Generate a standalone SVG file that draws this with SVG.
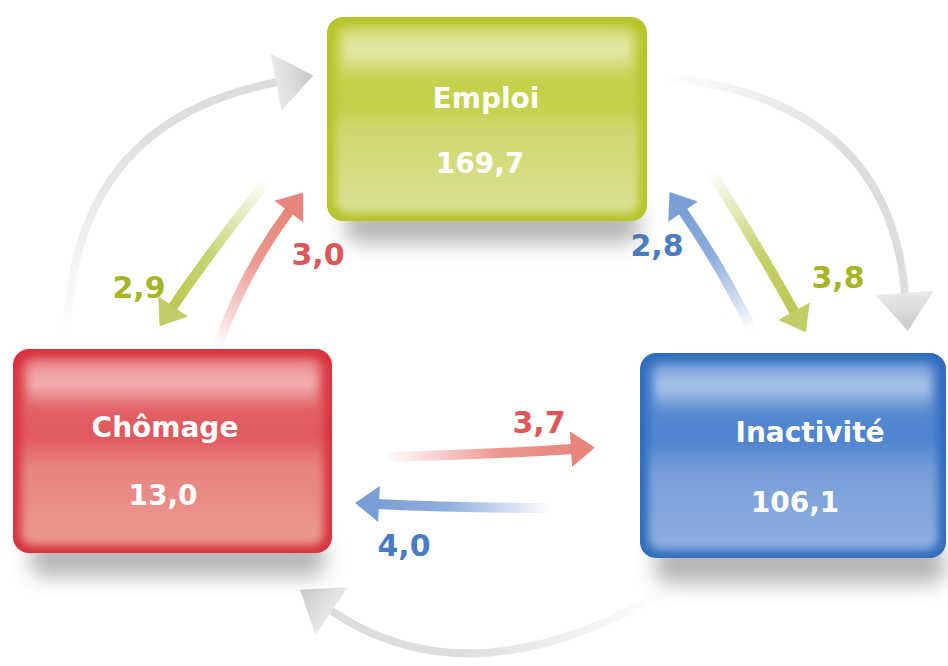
<svg xmlns="http://www.w3.org/2000/svg" width="948" height="666" viewBox="0 0 948 666">
<style>
.name{font-family:"DejaVu Sans","Liberation Sans",sans-serif;font-weight:bold;font-size:28px;fill:#ffffff;text-anchor:middle}
.val{font-family:"DejaVu Sans","Liberation Sans",sans-serif;font-weight:bold;font-size:30px;text-anchor:middle}
.shadow{fill:#707070;opacity:0.5}
.flow{fill:none;stroke-width:10}
.grey{fill:none;stroke-width:8}
.hl{fill:url(#hl)}
</style>
<defs>
<filter id="sh" x="-30%" y="-100%" width="160%" height="300%"><feGaussianBlur stdDeviation="10"/></filter>
<filter id="gl" x="-10%" y="-10%" width="120%" height="120%"><feGaussianBlur stdDeviation="4"/></filter>
<filter id="hb" x="-10%" y="-50%" width="120%" height="200%"><feGaussianBlur stdDeviation="4"/></filter>
<linearGradient id="hl" x1="0" y1="0" x2="0" y2="1"><stop offset="0" stop-color="#fff" stop-opacity="0.15"/><stop offset="0.45" stop-color="#fff" stop-opacity="0.5"/><stop offset="1" stop-color="#fff" stop-opacity="0"/></linearGradient>
<linearGradient id="gE" x1="0" y1="0" x2="0" y2="1"><stop offset="0" stop-color="#cbd55c"/><stop offset="0.42" stop-color="#c4cf49"/><stop offset="0.58" stop-color="#d0d972"/><stop offset="1" stop-color="#d9e091"/></linearGradient>
<linearGradient id="gC" x1="0" y1="0" x2="0" y2="1"><stop offset="0" stop-color="#e67074"/><stop offset="0.42" stop-color="#e0585d"/><stop offset="0.58" stop-color="#e7837f"/><stop offset="1" stop-color="#eb9a91"/></linearGradient>
<linearGradient id="gI" x1="0" y1="0" x2="0" y2="1"><stop offset="0" stop-color="#5f8fd4"/><stop offset="0.42" stop-color="#4f84cf"/><stop offset="0.58" stop-color="#789fda"/><stop offset="1" stop-color="#8eafe0"/></linearGradient>
<linearGradient id="fG1" gradientUnits="userSpaceOnUse" x1="268" y1="180" x2="172" y2="308"><stop offset="0" stop-color="#bcc850" stop-opacity="0"/><stop offset="0.6" stop-color="#bcc850" stop-opacity="0.8"/><stop offset="1" stop-color="#bcc850"/></linearGradient>
<linearGradient id="fR1" gradientUnits="userSpaceOnUse" x1="217" y1="347" x2="290" y2="210"><stop offset="0" stop-color="#e8857c" stop-opacity="0"/><stop offset="0.6" stop-color="#e8857c" stop-opacity="0.85"/><stop offset="1" stop-color="#e8857c"/></linearGradient>
<linearGradient id="fB1" gradientUnits="userSpaceOnUse" x1="752" y1="330" x2="682" y2="210"><stop offset="0" stop-color="#7a9fd6" stop-opacity="0"/><stop offset="0.6" stop-color="#7a9fd6" stop-opacity="0.85"/><stop offset="1" stop-color="#7a9fd6"/></linearGradient>
<linearGradient id="fG2" gradientUnits="userSpaceOnUse" x1="710" y1="170" x2="795" y2="313"><stop offset="0" stop-color="#bcc850" stop-opacity="0"/><stop offset="0.6" stop-color="#bcc850" stop-opacity="0.85"/><stop offset="1" stop-color="#bcc850"/></linearGradient>
<linearGradient id="fR2" gradientUnits="userSpaceOnUse" x1="385" y1="0" x2="575" y2="0"><stop offset="0" stop-color="#e8857c" stop-opacity="0"/><stop offset="0.6" stop-color="#e8857c" stop-opacity="0.85"/><stop offset="1" stop-color="#e8857c"/></linearGradient>
<linearGradient id="fB2" gradientUnits="userSpaceOnUse" x1="552" y1="0" x2="375" y2="0"><stop offset="0" stop-color="#7a9fd6" stop-opacity="0"/><stop offset="0.6" stop-color="#7a9fd6" stop-opacity="0.85"/><stop offset="1" stop-color="#7a9fd6"/></linearGradient>
<linearGradient id="gr1" gradientUnits="userSpaceOnUse" x1="0" y1="335" x2="0" y2="120"><stop offset="0" stop-color="#dddddd" stop-opacity="0"/><stop offset="1" stop-color="#dddddd"/></linearGradient>
<linearGradient id="gr2" gradientUnits="userSpaceOnUse" x1="660" y1="0" x2="860" y2="0"><stop offset="0" stop-color="#dddddd" stop-opacity="0"/><stop offset="1" stop-color="#dddddd"/></linearGradient>
<linearGradient id="gr3" gradientUnits="userSpaceOnUse" x1="665" y1="0" x2="450" y2="0"><stop offset="0" stop-color="#dddddd" stop-opacity="0"/><stop offset="1" stop-color="#dddddd"/></linearGradient>
<linearGradient id="gh" x1="0" y1="0" x2="1" y2="0"><stop offset="0" stop-color="#e8e8e8"/><stop offset="1" stop-color="#c9c9c9"/></linearGradient>
<marker id="hG" markerUnits="userSpaceOnUse" markerWidth="30" markerHeight="40" viewBox="-4 -20 30 40" refX="0" refY="0" orient="auto"><path d="M-2,-18 L22,0 L-2,18 z" fill="#c2cd68"/></marker>
<marker id="hR" markerUnits="userSpaceOnUse" markerWidth="30" markerHeight="40" viewBox="-4 -20 30 40" refX="0" refY="0" orient="auto"><path d="M-2,-18 L22,0 L-2,18 z" fill="#e8857c"/></marker>
<marker id="hB" markerUnits="userSpaceOnUse" markerWidth="30" markerHeight="40" viewBox="-4 -20 30 40" refX="0" refY="0" orient="auto"><path d="M-2,-18 L22,0 L-2,18 z" fill="#7a9fd6"/></marker>
<marker id="hK" markerUnits="userSpaceOnUse" markerWidth="44" markerHeight="64" viewBox="-4 -32 44 64" refX="0" refY="0" orient="auto"><path d="M-2,-29 L36,0 L-2,29 z" fill="url(#gh)"/></marker>
</defs>
<rect width="948" height="666" fill="#ffffff"/>

<g id="connectors">
<path class="grey" d="M67,330 Q75,120 278,82" stroke="url(#gr1)" marker-end="url(#hK)"/>
<path class="grey" d="M665,77 Q890,100 905,295" stroke="url(#gr2)" marker-end="url(#hK)"/>
<path class="grey" d="M663,592 Q470,705 330,610" stroke="url(#gr3)" marker-end="url(#hK)"/>
<path class="flow" d="M268,180 Q215,245 172,308" stroke="url(#fG1)" marker-end="url(#hG)"/>
<path class="flow" d="M217,347 Q245,270 290,210" stroke="url(#fR1)" marker-end="url(#hR)"/>
<path class="flow" d="M752,330 Q722,268 682,210" stroke="url(#fB1)" marker-end="url(#hB)"/>
<path class="flow" d="M710,170 Q760,250 795,313" stroke="url(#fG2)" marker-end="url(#hG)"/>
<path class="flow" d="M385,457 Q480,455 573,449" stroke="url(#fR2)" marker-end="url(#hR)"/>
<path class="flow" d="M552,508 Q460,508 377,504" stroke="url(#fB2)" marker-end="url(#hB)"/>
<text class="val" x="139" y="298" fill="#a6b523">2,9</text>
<text class="val" x="318" y="265" fill="#dc5757">3,0</text>
<text class="val" x="657" y="256" fill="#4a7cc4">2,8</text>
<text class="val" x="838" y="288" fill="#a6b523">3,8</text>
<text class="val" x="539" y="433" fill="#dc5757">3,7</text>
<text class="val" x="404" y="556" fill="#4a7cc4">4,0</text>
</g>

<g id="emploi">
<rect class="shadow" x="345" y="205" width="295" height="38" rx="15" filter="url(#sh)"/>
<rect x="327" y="17" width="320" height="204" rx="16" fill="#b6c329"/>
<rect x="335" y="26" width="304" height="187" rx="12" fill="url(#gE)" filter="url(#gl)"/>
<rect class="hl" x="342" y="28" width="290" height="50" rx="12" filter="url(#hb)"/>
<text class="name" x="486" y="108">Emploi</text>
<text class="name" x="480" y="173">169,7</text>
</g>

<g id="chomage">
<rect class="shadow" x="30" y="537" width="295" height="40" rx="15" filter="url(#sh)"/>
<rect x="13" y="349" width="319" height="204" rx="16" fill="#d8323d"/>
<rect x="21" y="358" width="303" height="187" rx="12" fill="url(#gC)" filter="url(#gl)"/>
<rect class="hl" x="28" y="360" width="289" height="50" rx="12" filter="url(#hb)"/>
<text class="name" x="165" y="437">Chômage</text>
<text class="name" x="163" y="505">13,0</text>
</g>

<g id="inactivite">
<rect class="shadow" x="655" y="542" width="290" height="42" rx="15" filter="url(#sh)"/>
<rect x="640" y="353" width="306" height="205" rx="16" fill="#2f6cbd"/>
<rect x="648" y="362" width="290" height="188" rx="12" fill="url(#gI)" filter="url(#gl)"/>
<rect class="hl" x="655" y="364" width="276" height="50" rx="12" filter="url(#hb)"/>
<text class="name" x="810" y="442">Inactivité</text>
<text class="name" x="795" y="512">106,1</text>
</g>
</svg>
